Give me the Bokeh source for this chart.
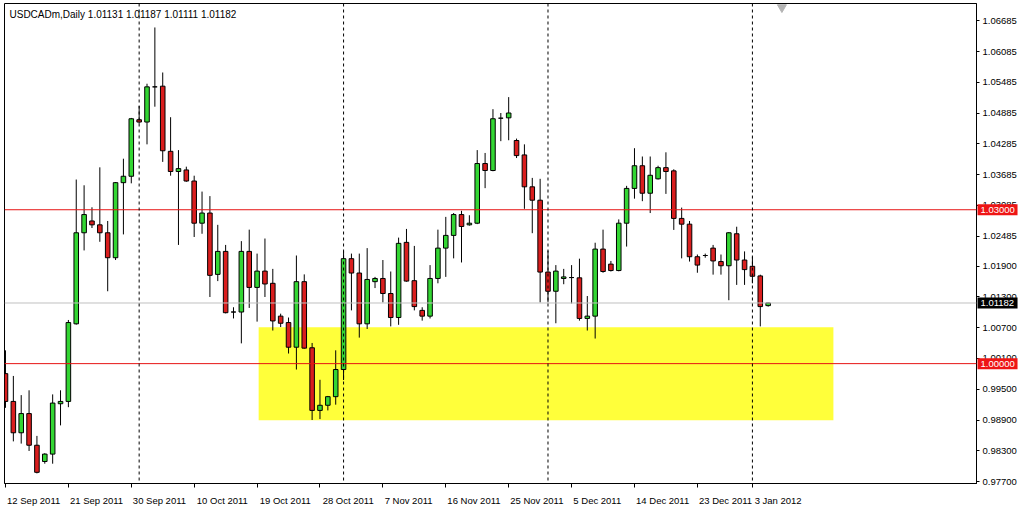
from bokeh.plotting import figure
from bokeh.models import Span, Label, FixedTicker, PrintfTickFormatter, Range1d, ColumnDataSource, LinearAxis
from bokeh.core.properties import value
from bokeh.embed import file_html
from bokeh.resources import INLINE

# ---------------- data ----------------
symbol = "USDCADm,Daily"

opens = [0.99805, 0.99263, 0.98652, 0.99026, 0.98409, 0.98092, 0.98236, 0.99218, 0.99263, 1.00776,
         1.02551, 1.02781, 1.02706, 1.02551, 1.02065, 1.03528, 1.03653, 1.04755, 1.04710, 1.05396,
         1.05409, 1.04139, 1.03746, 1.03776, 1.03560, 1.02738, 1.02936, 1.01740, 1.02188, 1.01006,
         1.01006, 1.02188, 1.01486, 1.01804, 1.01566, 1.00926, 1.00801, 1.00320, 1.01598, 1.00309,
         0.99088, 0.99188, 0.99356, 0.99885, 1.02046, 1.01766, 1.00776, 1.01598, 1.01660, 1.01367,
         1.00899, 1.02364, 1.01617, 1.01038, 1.00926, 1.01660, 1.02252, 1.02500, 1.02906, 1.02706,
         1.02738, 1.03901, 1.03765, 1.04785, 1.04792, 1.04350, 1.04069, 1.03447, 1.03186, 1.01785,
         1.01411, 1.01660, 1.01678, 1.01673, 1.00881, 1.00926, 1.02233, 1.01940, 1.01815, 1.02738,
         1.03416, 1.03858, 1.03322, 1.03603, 1.03821, 1.03758, 1.02831, 1.02719, 1.02084, 1.02108,
         1.02252, 1.01990, 1.01908, 1.02532, 1.02020, 1.01897, 1.01710, 1.01131]
highs = [1.00259, 0.99760, 0.99386, 0.99480, 0.98591, 0.98254, 0.99400, 0.99480, 1.00851, 1.03589,
         1.03477, 1.03048, 1.03827, 1.02781, 1.03540, 1.03995, 1.04790, 1.05022, 1.05457, 1.06554,
         1.05676, 1.04804, 1.04163, 1.03840, 1.03664, 1.03354, 1.03266, 1.02706, 1.02314, 1.01099,
         1.02388, 1.02612, 1.02145, 1.02439, 1.01847, 1.00974, 1.00899, 1.02108, 1.01740, 1.00403,
         0.99685, 0.99370, 1.00259, 1.02188, 1.02145, 1.02145, 1.02252, 1.01691, 1.02020, 1.01796,
         1.02457, 1.02626, 1.02295, 1.01099, 1.01921, 1.02612, 1.02861, 1.02936, 1.02980, 1.02893,
         1.04163, 1.04107, 1.04961, 1.04886, 1.05196, 1.04387, 1.04275, 1.03621, 1.03603, 1.02202,
         1.01921, 1.01847, 1.01921, 1.02046, 1.01318, 1.02357, 1.02612, 1.02002, 1.02812, 1.03466,
         1.04200, 1.04038, 1.04038, 1.03858, 1.04120, 1.03789, 1.03042, 1.02781, 1.02127, 1.02145,
         1.02314, 1.02127, 1.02565, 1.02669, 1.02188, 1.02084, 1.01734, 1.01187]
lows = [0.99138, 0.98484, 0.98441, 0.98297, 0.97860, 0.98049, 0.98049, 0.98796, 0.99151, 1.00760,
        1.02207, 1.02644, 1.02375, 1.01411, 1.02020, 1.02519, 1.03515, 1.04680, 1.04275, 1.05009,
        1.03933, 1.03664, 1.02314, 1.03545, 1.02469, 1.02532, 1.01299, 1.01609, 1.00980, 1.00881,
        1.00395, 1.01086, 1.00819, 1.01299, 1.00645, 1.00713, 1.00197, 0.99885, 1.00290, 0.98901,
        0.98919, 0.99088, 0.99200, 0.99680, 1.01038, 1.00507, 1.00675, 1.01473, 1.01193, 1.00726,
        1.00757, 1.01598, 1.01038, 1.00838, 1.00881, 1.01566, 1.01691, 1.02052, 1.01972, 1.02690,
        1.02720, 1.03421, 1.03750, 1.04337, 1.04355, 1.04008, 1.03018, 1.02543, 1.01193, 1.01193,
        1.00787, 1.01548, 1.01174, 1.00838, 1.00645, 1.00489, 1.01772, 1.01796, 1.01800, 1.02282,
        1.03216, 1.03167, 1.02936, 1.03589, 1.03309, 1.02607, 1.02052, 1.01990, 1.01772, 1.02065,
        1.01735, 1.01735, 1.01236, 1.01535, 1.01535, 1.01566, 1.00726, 1.01111]
closes = [0.99263, 0.98652, 0.99026, 0.98409, 0.97881, 0.98236, 0.99231, 0.99263, 1.00801, 1.02551,
          1.02906, 1.02706, 1.02551, 1.02065, 1.03528, 1.03653, 1.04774, 1.04710, 1.05396, 1.05396,
          1.04150, 1.03746, 1.03802, 1.03560, 1.02738, 1.02936, 1.01721, 1.02188, 1.00993, 1.01006,
          1.02188, 1.01486, 1.01804, 1.01553, 1.00832, 1.00787, 1.00320, 1.01598, 1.00302, 0.99088,
          0.99188, 0.99356, 0.99885, 1.02046, 1.01766, 1.00776, 1.01641, 1.01660, 1.01367, 1.00899,
          1.02345, 1.01609, 1.01112, 1.00926, 1.01660, 1.02252, 1.02500, 1.02906, 1.02674, 1.02738,
          1.03901, 1.03765, 1.04774, 1.04785, 1.04886, 1.04056, 1.03447, 1.03186, 1.01785, 1.01411,
          1.01804, 1.01691, 1.01678, 1.00881, 1.00926, 1.02233, 1.01796, 1.01815, 1.02738, 1.03416,
          1.03858, 1.03322, 1.03672, 1.03821, 1.03746, 1.02831, 1.02719, 1.02084, 1.01921, 1.02108,
          1.02002, 1.01908, 1.02551, 1.02020, 1.01833, 1.01703, 1.01112, 1.01182]

date_tick_bars = [0, 8, 16, 24, 32, 40, 48, 56, 64, 72, 80, 88, 95]
date_tick_labels = ["12 Sep 2011", "21 Sep 2011", "30 Sep 2011", "10 Oct 2011", "19 Oct 2011",
                    "28 Oct 2011", "7 Nov 2011", "16 Nov 2011", "25 Nov 2011", "5 Dec 2011",
                    "14 Dec 2011", "23 Dec 2011", "3 Jan 2012"]
month_separator_bars = [17, 43, 69, 95]

price_ticks = [1.06685, 1.06085, 1.05485, 1.04885, 1.04285, 1.03685, 1.03085, 1.02485,
               1.01900, 1.01300, 1.00700, 1.00100, 0.99500, 0.98900, 0.98300, 0.97700]

level_lines = [1.03000, 1.00000]
zone_bars = [32.2, 105.3]
zone_prices = [0.98895, 1.00707]

# ---------------- styling ----------------
BULL = "#33D633"
BEAR = "#D91E1E"
LEVEL_RED = "#E61414"
TAG_RED = "#EE1515"
FONT = "Liberation Sans"
X0, X1 = -0.125, 123.5
Y0, Y1 = 0.97663, 1.07021
PX_PER_BAR = 7.85         # approx. horizontal scale of the frame
CHAR_W = 4.9              # approx. average label glyph width (px)

n = len(opens)
idx = list(range(n))
src = ColumnDataSource(dict(
    x=idx,
    high=highs,
    low=lows,
    top=[max(o, c) for o, c in zip(opens, closes)],
    bottom=[min(o, c) for o, c in zip(opens, closes)],
    color=[BULL if c > o else (BEAR if c < o else "black") for o, c in zip(opens, closes)],
))

p = figure(width=1019, height=508, output_backend="svg", toolbar_location=None,
           x_range=Range1d(X0, X1), y_range=Range1d(Y0, Y1),
           y_axis_location="right",
           min_border_left=4, min_border_top=3, min_border_right=0, min_border_bottom=0)

p.background_fill_color = "white"
p.border_fill_color = "white"
p.outline_line_color = "black"
p.outline_line_width = 1
p.xgrid.visible = False
p.ygrid.visible = False

# support / resistance zone
p.quad(left=[zone_bars[0]], right=[zone_bars[1]], bottom=[zone_prices[0]], top=[zone_prices[1]],
       fill_color="#FFFF3A", line_color=None)

# level lines
for lv in level_lines:
    p.add_layout(Span(location=lv, dimension="width", line_color=LEVEL_RED, line_width=1))
p.add_layout(Span(location=closes[-1], dimension="width", line_color="#C0C0C0", line_width=1))

# month separators
for b in month_separator_bars:
    p.add_layout(Span(location=b, dimension="height", line_color="black", line_width=1,
                      line_dash="3 3"))

# candles
p.segment(x0="x", y0="low", x1="x", y1="high", source=src, line_color="black", line_width=1)
p.vbar(x="x", width=0.58, top="top", bottom="bottom", source=src,
       fill_color="color", line_color="black", line_width=1)

# chart-shift marker at the top edge
p.scatter(x=[n + 0.75], y=[Y1 - (Y1 - Y0) * 0.008], marker="inverted_triangle", size=9,
          fill_color="#B4B4B4", line_color="#B4B4B4", level="overlay")

# x axis: tick marks at the bars (no labels) ...
xa = p.xaxis[0]
xa.ticker = FixedTicker(ticks=date_tick_bars)
xa.major_label_overrides = {b: "" for b in date_tick_bars}
xa.major_label_text_font_size = "1px"
xa.major_label_standoff = 0
xa.major_tick_in = 0
xa.major_tick_out = 4
xa.minor_tick_line_color = None
xa.axis_line_color = "black"

# ... and a label axis whose labels start at the tick marks
label_pos = [b + len(t) * CHAR_W / 2 / PX_PER_BAR + 0.15 for b, t in zip(date_tick_bars, date_tick_labels)]
xl = LinearAxis(ticker=FixedTicker(ticks=label_pos),
                major_label_overrides={pos: t for pos, t in zip(label_pos, date_tick_labels)},
                axis_line_color=None, major_tick_line_color=None, minor_tick_line_color=None,
                major_label_standoff=1, major_label_text_font=FONT,
                major_label_text_font_size="9.5px", major_label_text_color="black")
p.add_layout(xl, "below")

ya = p.yaxis[0]
ya.ticker = FixedTicker(ticks=price_ticks)
ya.formatter = PrintfTickFormatter(format="%.5f")
ya.major_label_text_font = FONT
ya.major_label_text_font_size = "9.5px"
ya.major_label_text_color = "black"
ya.major_tick_in = 0
ya.major_tick_out = 3
ya.minor_tick_line_color = None
ya.major_label_standoff = 3
ya.axis_line_color = "black"

# header
header = f"{symbol}  {opens[-1]:.5f} {highs[-1]:.5f} {lows[-1]:.5f} {closes[-1]:.5f}"
p.add_layout(Label(x=X0, y=Y1, x_offset=5, y_offset=-5,
                   text=header, text_baseline="top", text_align="left",
                   text_font=FONT, text_font_size="10px", text_color="black"))

# price tags over the right axis (overlay level so they are not clipped to the frame)
tag_prices = level_lines + [closes[-1]]
tag_colors = [TAG_RED, TAG_RED, "black"]
tag_src = ColumnDataSource(dict(
    x=[X1 + 21.0 / PX_PER_BAR] * len(tag_prices),
    x_text=[X1] * len(tag_prices),
    y=tag_prices,
    text=[f"{v:.5f}" for v in tag_prices],
    color=tag_colors,
))
p.rect(x="x", y="y", width=40, height=11, width_units="screen", height_units="screen",
       source=tag_src, fill_color="color", line_color=None, level="overlay")
p.text(x="x_text", y="y", text="text", x_offset=4, source=tag_src,
       text_baseline="middle", text_align="left", text_font=value(FONT),
       text_font_size="9.5px", text_color="white", level="overlay")

open("out.html", "w").write(file_html(p, INLINE))
